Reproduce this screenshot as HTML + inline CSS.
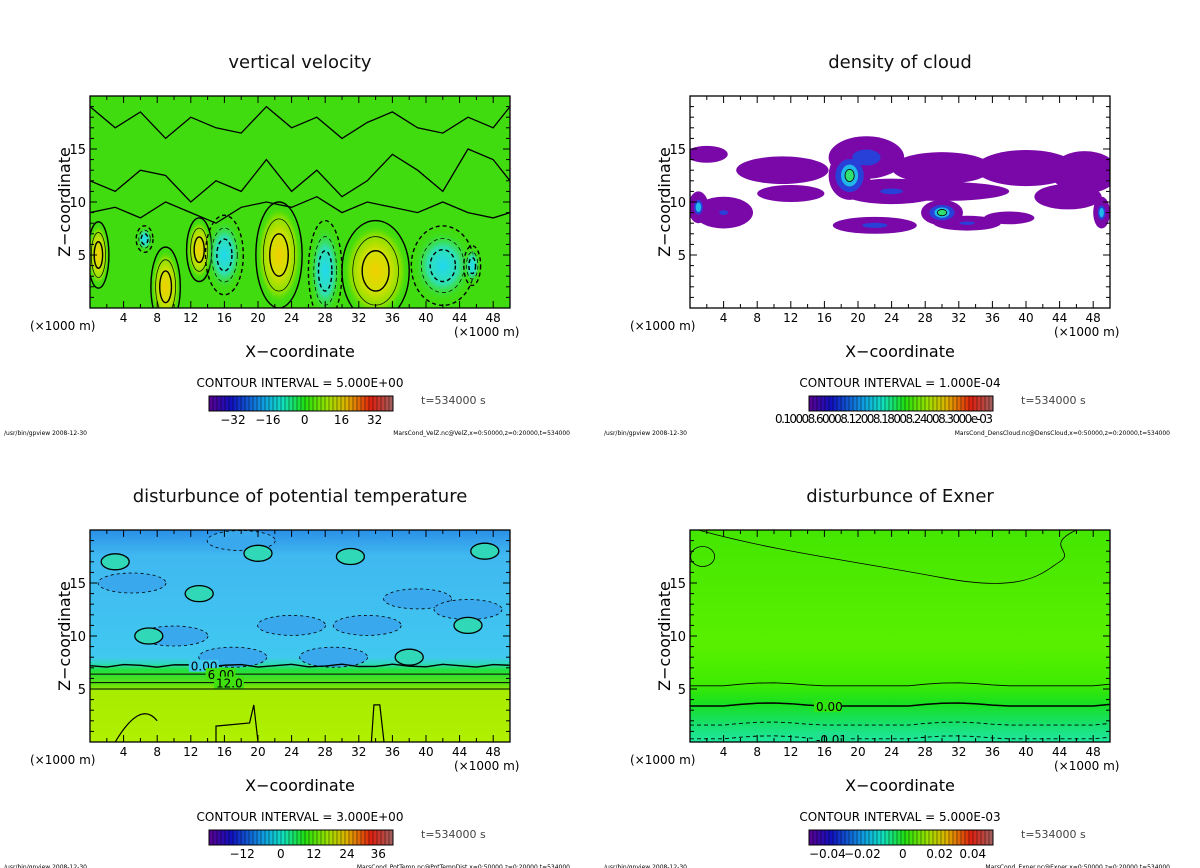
<!DOCTYPE html>
<html><head><meta charset="utf-8">
<style>
html,body{margin:0;padding:0;background:#fff;}
svg{display:block;font-family:"DejaVu Sans","Liberation Sans",sans-serif;}
</style></head>
<body>
<svg id="fig" width="1200" height="868" viewBox="0 0 1200 868" xmlns="http://www.w3.org/2000/svg">
<defs>
<linearGradient id="cbar" x1="0" x2="1" y1="0" y2="0">
<stop offset="0" stop-color="#5a0090"/><stop offset="0.12" stop-color="#1010c0"/>
<stop offset="0.3" stop-color="#10a0e0"/><stop offset="0.4" stop-color="#10e0c0"/>
<stop offset="0.52" stop-color="#20e010"/><stop offset="0.65" stop-color="#a0e000"/>
<stop offset="0.75" stop-color="#e0b000"/><stop offset="0.88" stop-color="#e02010"/>
<stop offset="1" stop-color="#a06060"/></linearGradient>
<radialGradient id="gpos"><stop offset="0" stop-color="#f0d000"/><stop offset="0.45" stop-color="#d0e000"/><stop offset="0.8" stop-color="#80e000"/><stop offset="1" stop-color="#40dc10" stop-opacity="0"/></radialGradient>
<radialGradient id="gneg"><stop offset="0" stop-color="#20d8f0"/><stop offset="0.5" stop-color="#30e0b0"/><stop offset="1" stop-color="#40dc10" stop-opacity="0"/></radialGradient>
<linearGradient id="gbl" x1="0" x2="0" y1="0" y2="1">
<stop offset="0" stop-color="#2a90e8"/><stop offset="0.12" stop-color="#40b8f0"/><stop offset="0.6" stop-color="#40c8f0"/><stop offset="0.63" stop-color="#30d8c0"/>
<stop offset="0.66" stop-color="#20e040"/><stop offset="0.73" stop-color="#60e010"/><stop offset="0.76" stop-color="#a8ec00"/><stop offset="1" stop-color="#b0f000"/></linearGradient>
<linearGradient id="gbr" x1="0" x2="0" y1="0" y2="1">
<stop offset="0" stop-color="#44e600"/><stop offset="0.3" stop-color="#50ec00"/><stop offset="0.55" stop-color="#58f000"/><stop offset="0.72" stop-color="#40ec00"/>
<stop offset="0.82" stop-color="#18e020"/><stop offset="0.92" stop-color="#18e070"/><stop offset="1" stop-color="#20e8a0"/></linearGradient>
</defs>
</svg>
<script>
// ---- data ----
const xTicks = [4,8,12,16,20,24,28,32,36,40,44,48];
const zTicks = [5,10,15];
const panelTitles = ["vertical velocity","density of cloud","disturbunce of potential temperature","disturbunce of Exner"];
const intervals = ["5.000E+00","1.000E-04","3.000E+00","5.000E-03"];
const cbarLabels = [["-32","-16","0","16","32"],["0.1000","0.6000","0.1200e-03"],["-12","0","12","24","36"],["-0.04","-0.02","0","0.02","0.04"]];
const cbarLabelPos = [[0.13,0.32,0.52,0.72,0.9],[0,0.3,0.6],[0.18,0.39,0.57,0.75,0.92],[0.1,0.29,0.51,0.71,0.89]];
const footers = ["MarsCond_VelZ.nc@VelZ,x=0:50000,z=0:20000,t=534000","MarsCond_DensCloud.nc@DensCloud,x=0:50000,z=0:20000,t=534000","MarsCond_PotTemp.nc@PotTempDist,x=0:50000,z=0:20000,t=534000","MarsCond_Exner.nc@Exner,x=0:50000,z=0:20000,t=534000"];
// vertical velocity cells
const wX = [22.5,34,13,9,1,16,28,42,45.5,6.5];
const wZ = [5,3.5,5.5,2,5,5,3.5,4,4,6.5];
const wRX = [2.2,3.2,1.2,1.4,1,1.8,1.6,3,0.8,0.8];
const wRZ = [4,3.8,2.4,3,2.5,3,3.8,3,1.5,1];
const wSign = [1,1,1,1,1,-1,-1,-1,-1,-1];
// irregular zero contours (z along x)
const wLineX = [0,3,6,9,12,15,18,21,24,27,30,33,36,39,42,45,48,50];
const wLineZ = [12,11,13,12.5,10,12,11,14,11,13,10.5,12,14.5,13,11,15,14,12];
const wLine2Z = [9,9.5,8.5,10,9,8,9.5,10,9.5,10.5,9,10,9.5,9,10,9,8.5,9];
const wLine3Z = [19,17,18.5,16,18,17,16.5,19,17,18,16,17.5,18.5,17,16.5,18,17,19];
// cloud patches: x, z, rx, rz, strength
const cX = [2,11,21,30,40,47,24,12,30,4,45,22,33,1,49,19,30,38];
const cZ = [14.5,13,14.2,13.2,13.2,12.8,11,10.8,11,9,10.5,7.8,8,9.5,9,12.5,9,8.5];
const cRX = [2.5,5.5,4.5,6,6,4,6,4,8,3.5,4,5,4,1.2,1,2.5,2.5,3];
const cRZ = [0.8,1.3,2,1.5,1.7,2,1.2,0.8,0.9,1.5,1.2,0.8,0.7,1.5,1.5,2.3,1.2,0.6];
const cS = [0,0,0.5,0,0,0,0.3,0,0,0.2,0,0.4,0.3,0.6,0.6,0.9,0.8,0];
// theta contour levels
const thZ = [7.2,6.4,5.6,5.0];
const thLab = ["0.00","6.00","12.0",""];
// exner contour levels
const exZ = [5.3,3.4,1.6,0.3];
const exLab = ["","0.00","","-0.01"];

const svg = document.getElementById('fig');
const NS = "http://www.w3.org/2000/svg";
function mk(tag, attrs, parent){const e=document.createElementNS(NS,tag);for(const k in attrs)e.setAttribute(k,attrs[k]);(parent||svg).appendChild(e);return e;}
function txt(s,attrs,parent){const e=mk('text',attrs,parent);e.textContent=s;return e;}

const offs = [[0,0],[600,0],[0,434],[600,434]];
offs.forEach((o,i)=>{
  const ox=o[0], oy=o[1];
  const L=ox+90,R=ox+510,T=oy+96,B=oy+308;
  const sx=v=>L+(v/50)*(R-L);
  const sz=v=>B-(v/20)*(B-T);
  const g=mk('g',{});
  
  
  const t=txt(panelTitles[i],{x:ox+300,y:oy+68,'text-anchor':'middle','font-size':18,fill:'#111'},g);
  
  
  const plot=mk('g',{},g);
  
  
  const clipId='clip'+i;
  const cp=mk('clipPath',{id:clipId},plot);mk('rect',{x:L,y:T,width:R-L,height:B-T},cp);
  const f=mk('g',{'clip-path':'url(#'+clipId+')'},plot);
  if(i===0){
    mk('rect',{x:L,y:T,width:R-L,height:B-T,fill:'#40dc10'},f);
    [wLineZ,wLine2Z,wLine3Z].forEach(arr=>{
      let d='';wLineX.forEach((x,k)=>{d+=(k?'L':'M')+sx(x)+' '+sz(arr[k]);});
      mk('path',{d:d,fill:'none',stroke:'#000','stroke-width':1.3},f);
    });
    wX.forEach((x,k)=>{
      const cx=sx(x),cy=sz(wZ[k]),rx=wRX[k]*8.4,ry=wRZ[k]*10.6;
      const e=mk('ellipse',{cx:cx,cy:cy,rx:rx*1.2,ry:ry*1.15,fill:wSign[k]>0?'url(#gpos)':'url(#gneg)'},f);
      
      
      [1.25,0.85,0.5].forEach((s,j)=>{
        mk('ellipse',{cx:cx,cy:cy,rx:rx*s,ry:ry*s,fill:'none',stroke:'#000','stroke-width':j%2?0.7:1.4,'stroke-dasharray':wSign[k]<0?'4 3':'none'},f);
      });
    });
  } else if(i===1){
    mk('rect',{x:L,y:T,width:R-L,height:B-T,fill:'#fff'},f);
    cX.forEach((x,k)=>{
      const e=mk('ellipse',{cx:sx(x),cy:sz(cZ[k]),rx:cRX[k]*8.4,ry:cRZ[k]*10.6,fill:'#7a08a8'},f);
      
      
    });
    cX.forEach((x,k)=>{ if(cS[k]>0){
      mk('ellipse',{cx:sx(x),cy:sz(cZ[k]),rx:cRX[k]*8.4*0.75*cS[k],ry:cRZ[k]*10.6*0.75*cS[k],fill:'#2840d8'},f);
      if(cS[k]>0.5) mk('ellipse',{cx:sx(x),cy:sz(cZ[k]),rx:cRX[k]*8.4*0.45*cS[k],ry:cRZ[k]*10.6*0.5*cS[k],fill:'#20b8e8'},f);
      if(cS[k]>0.7) mk('ellipse',{cx:sx(x),cy:sz(cZ[k]),rx:cRX[k]*8.4*0.22,ry:cRZ[k]*10.6*0.25,fill:'#30e070',stroke:'#000','stroke-width':0.8},f);
    }});
  } else if(i===2){
    mk('rect',{x:L,y:T,width:R-L,height:B-T,fill:'url(#gbl)'},f);
    const dashX=[18,5,39,45,17,29,24,10,33];const dashZ=[19,15,13.5,12.5,8,8,11,10,11];
    dashX.forEach((x,k)=>{mk('ellipse',{cx:sx(x),cy:sz(dashZ[k]),rx:34,ry:10,fill:'#3aa8ec',stroke:'#000','stroke-width':0.8,'stroke-dasharray':'3 3'},f);});
    const blobsX=[3,31,47,45,13,7,38,20];
    const blobsZ=[17,17.5,18,11,14,10,8,17.8];
    blobsX.forEach((x,k)=>{mk('ellipse',{cx:sx(x),cy:sz(blobsZ[k]),rx:14,ry:8,fill:'#30d8b8',stroke:'#000','stroke-width':1.3},f);});
    thZ.forEach((z,k)=>{
      let d='';for(let x=0;x<=50;x+=2){d+=(x?'L':'M')+sx(x)+' '+(sz(z)+(k===0?Math.sin(x)*1.5:0));}
      mk('path',{d:d,fill:'none',stroke:'#000','stroke-width':k===0?1.4:1},f);
      if(thLab[k]){const lx=sx(k===0?12:(k===1?14:15)); mk('rect',{x:lx-2,y:sz(z)-6,width:30,height:12,fill:k===0?'#40c8f0':'#40e010'},f);
        txt(thLab[k],{x:lx,y:sz(z)+5,'font-size':12,fill:'#000'},f);}
    });
    mk('path',{d:`M${sx(3)} ${B}Q${sx(6)} ${sz(4)} ${sx(8)} ${sz(2)}M${sx(15)} ${B}L${sx(15)} ${sz(1.5)}L${sx(19)} ${sz(1.8)}L${sx(19.5)} ${sz(3.5)}L${sx(20)} ${B}M${sx(33.5)} ${B}L${sx(33.8)} ${sz(3.5)}L${sx(34.5)} ${sz(3.5)}L${sx(35)} ${B}`,fill:'none',stroke:'#000','stroke-width':1.2},f);
  } else {
    mk('rect',{x:L,y:T,width:R-L,height:B-T,fill:'url(#gbr)'},f);
    mk('path',{d:`M${sx(1)} ${T}C${sx(10)} ${sz(18)} ${sx(20)} ${sz(17)} ${sx(30)} ${sz(15.5)}S${sx(42)} ${sz(16)} ${sx(44)} ${sz(17)}S${sx(42)} ${sz(18.5)} ${sx(46)} ${T}`,fill:'none',stroke:'#000','stroke-width':0.8},f);
    mk('ellipse',{cx:sx(1.5),cy:sz(17.5),rx:12,ry:10,fill:'none',stroke:'#000','stroke-width':0.8},f);
    exZ.forEach((z,k)=>{
      let d='';for(let x=0;x<=50;x+=2){d+=(x?'L':'M')+sx(x)+' '+(sz(z)-Math.max(0,Math.sin((x-26)/3.5))*3);}
      mk('path',{d:d,fill:'none',stroke:'#000','stroke-width':k===1?1.5:0.9,'stroke-dasharray':k>1?'4 3':'none'},f);
      if(exLab[k]){const lx=sx(15); mk('rect',{x:lx-2,y:sz(z)-6,width:k===3?36:28,height:12,fill:k===3?'#20e090':'#30e410'},f);
        txt(exLab[k],{x:lx,y:sz(z)+5,'font-size':12,fill:'#000'},f);}
    });
  }
  mk('rect',{x:L,y:T,width:R-L,height:B-T,fill:'none',stroke:'#000','stroke-width':1.3},plot);
  for(let x=2;x<50;x+=2){const len=x%4===0?7:4;mk('line',{x1:sx(x),x2:sx(x),y1:B,y2:B-len,stroke:'#000'},g);mk('line',{x1:sx(x),x2:sx(x),y1:T,y2:T+len,stroke:'#000'},g);}
  for(let z=1;z<20;z++){const len=z%5===0?7:4;mk('line',{x1:L,x2:L+len,y1:sz(z),y2:sz(z),stroke:'#000'},g);mk('line',{x1:R,x2:R-len,y1:sz(z),y2:sz(z),stroke:'#000'},g);}
  xTicks.forEach(v=>{const e=txt(String(v),{x:sx(v),y:oy+322,'text-anchor':'middle','font-size':12,fill:'#000'},g);
    
    });
  zTicks.forEach(v=>{const e=txt(String(v),{x:ox+86,y:sz(v)+5,'text-anchor':'end','font-size':13,fill:'#000'},g);
    
    });
  txt('(×1000 m)',{x:ox+30,y:oy+330,'font-size':12,fill:'#000'},g);
  txt('(×1000 m)',{x:ox+454,y:oy+336,'font-size':12,fill:'#000'},g);
  const xl=txt('X−coordinate',{x:ox+300,y:oy+357,'text-anchor':'middle','font-size':16,fill:'#000'},g);
  
  
  const yl=txt('Z−coordinate',{x:0,y:0,'text-anchor':'middle','font-size':16,fill:'#000',transform:`translate(${ox+70},${oy+202}) rotate(-90)`},g);
  
  
  txt('CONTOUR INTERVAL = '+intervals[i],{x:ox+300,y:oy+387,'text-anchor':'middle','font-size':12,fill:'#000'},g);
  const cb=mk('g',{},g);
  
  
  mk('rect',{x:ox+209,y:oy+396,width:184,height:15,fill:'url(#cbar)',stroke:'#000','stroke-width':1},cb);
  for(let k=1;k<46;k++){mk('line',{x1:ox+209+k*4,x2:ox+209+k*4,y1:oy+396,y2:oy+411,stroke:'#000','stroke-width':0.6,'stroke-opacity':0.7},cb);}
  if(i===1){txt('0.10008.60008.12008.18008.24008.3000e-03',{x:ox+175,y:oy+423,'font-size':12,fill:'#000',textLength:218},cb);}
  else cbarLabels[i].forEach((s,k)=>{txt(s.replace('-','−'),{x:ox+209+184*cbarLabelPos[i][k],y:oy+424,'text-anchor':'middle','font-size':12,fill:'#000'},cb);});
  txt('t=534000  s',{x:ox+421,y:oy+404,'font-size':11,fill:'#444'},g);
  txt('/usr/bin/gpview   2008-12-30',{x:ox+4,y:oy+435,'font-size':6,fill:'#000'},g);
  txt(footers[i],{x:ox+570,y:oy+435,'text-anchor':'end','font-size':6,fill:'#000'},g);
});
</script>
</body></html>
